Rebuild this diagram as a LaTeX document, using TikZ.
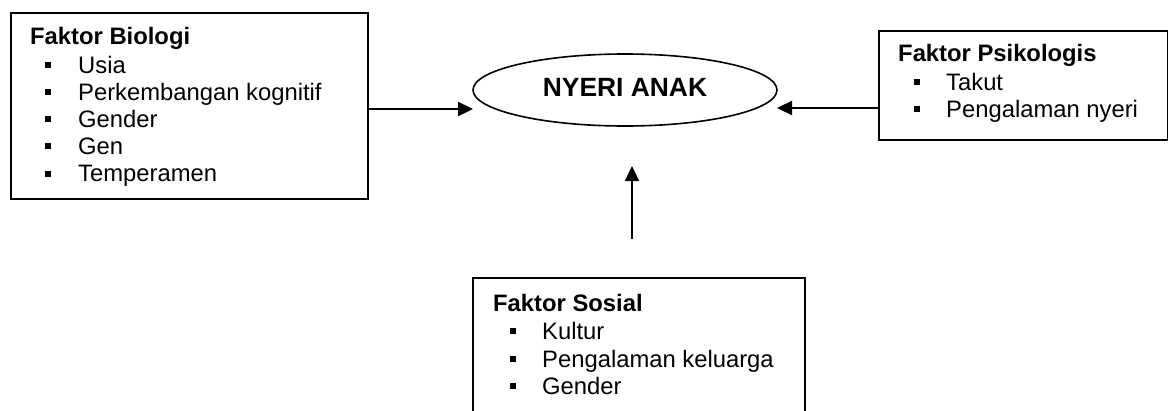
\documentclass[tikz,border=0pt]{standalone}
\usepackage{fontspec}
\setmainfont{Liberation Sans}
\usetikzlibrary{arrows.meta,shapes.geometric}
\newcommand{\bulsq}{\rule[5.3pt]{6pt}{6pt}}
\begin{document}
\begin{tikzpicture}[x=1pt,y=-1pt,
  box/.style={draw, line width=1.9pt, inner sep=0pt},
  ttl/.style={anchor=base west, inner sep=0pt, font=\fontsize{23.8}{27}\selectfont\bfseries},
  itm/.style={anchor=base west, inner sep=0pt, font=\fontsize{23.8}{27}\selectfont},
  arr/.style={line width=2.3pt, -{Triangle[length=15pt,width=14pt]}},
]
\useasboundingbox (0,0) rectangle (1168,410);

% boxes
\node[box, minimum width=357pt, minimum height=186pt, anchor=north west] (biologi) at (10,12) {};
\node[box, minimum width=289pt, minimum height=109pt, anchor=north west] (psikologis) at (878,30) {};
\node[inner sep=0pt, minimum width=332pt, minimum height=134pt, anchor=north west] (sosial) at (473,278) {};
\draw[line width=1.9pt] (sosial.south west) -- (sosial.north west) -- (sosial.north east) -- (sosial.south east);

% ellipse
\node[draw, ellipse, line width=1.6pt, minimum width=304pt, minimum height=72pt, inner sep=0pt,
      text depth=5pt, font=\fontsize{26.4}{30}\selectfont\bfseries] (nyeri) at (625,90) {NYERI ANAK};

% biologi text
\node[ttl] (bt0) at (30,44) {Faktor Biologi};
\node[itm] (bt1) at (45,73) {\bulsq\hspace{27pt}Usia};
\node[itm] (bt2) at (45,100.5) {\bulsq\hspace{27pt}Perkembangan kognitif};
\node[itm] (bt3) at (45,127.5) {\bulsq\hspace{27pt}Gender};
\node[itm] (bt4) at (45,154.5) {\bulsq\hspace{27pt}Gen};
\node[itm] (bt5) at (45,181.8) {\bulsq\hspace{27pt}Temperamen};

% psikologis text
\node[ttl] (pt0) at (898,61) {Faktor Psikologis};
\node[itm] (pt1) at (914,90) {\bulsq\hspace{26pt}Takut};
\node[itm] (pt2) at (914,117) {\bulsq\hspace{26pt}Pengalaman nyeri};

% sosial text
\node[ttl] (st0) at (493,311) {Faktor Sosial};
\node[itm] (st1) at (510,339) {\bulsq\hspace{26pt}Kultur};
\node[itm] (st2) at (510,367) {\bulsq\hspace{26pt}Pengalaman keluarga};
\node[itm] (st3) at (510,394) {\bulsq\hspace{26pt}Gender};

% connectors
\coordinate (btip) at (473,109);
\coordinate (ptip) at (777,108);
\coordinate (sfoot) at (632,239);
\coordinate (stip) at (632,166);
\draw[arr] (biologi.east |- btip) -- (btip);
\draw[arr] (psikologis.west |- ptip) -- (ptip);
\draw[arr] (sfoot) -- (stip);
\end{tikzpicture}
\end{document}
